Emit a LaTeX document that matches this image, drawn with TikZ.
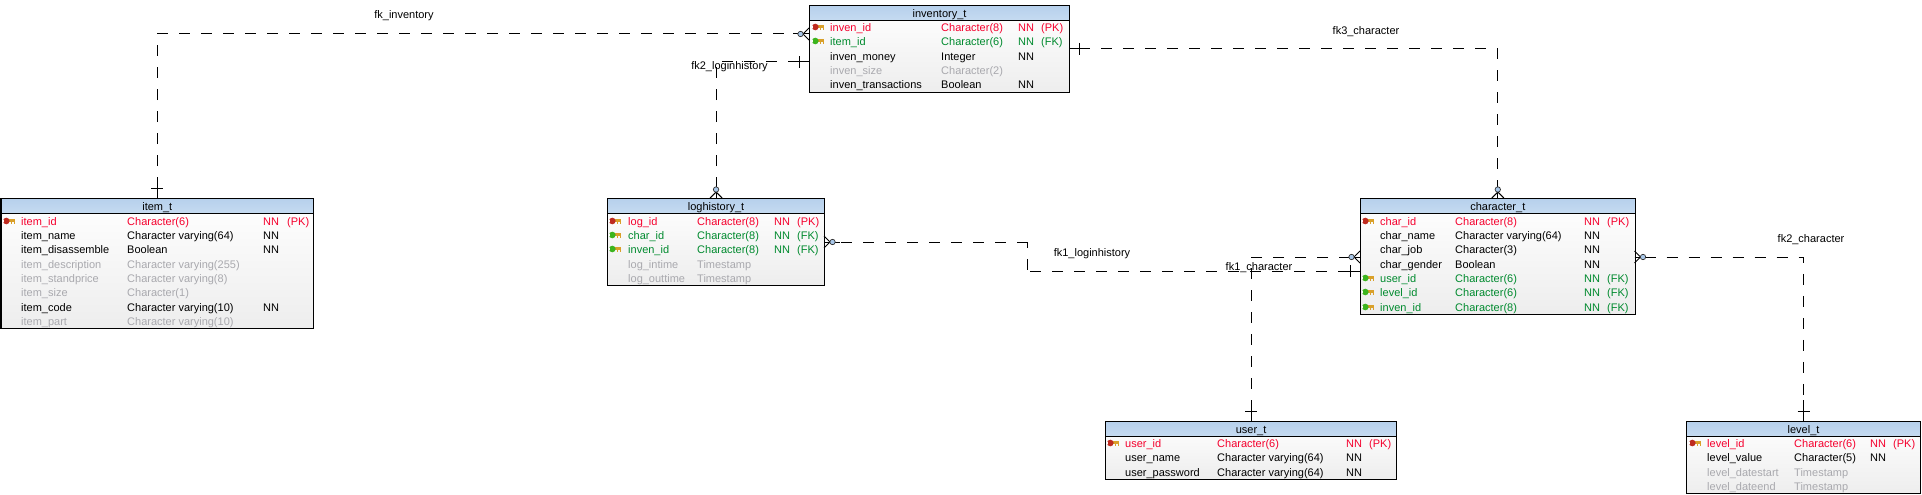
\documentclass[tikz,border=0pt]{standalone}
\usepackage{fontspec}
\setmainfont{Liberation Sans}
\usepackage{xcolor}

\definecolor{pkred}{HTML}{F5002D}
\definecolor{fkgreen}{HTML}{008A2E}
\definecolor{optgray}{HTML}{A9A9AE}
\definecolor{keygold}{HTML}{D9A02A}
\definecolor{keyred}{HTML}{BE2A20}
\definecolor{keygreen}{HTML}{3CB41E}
\definecolor{headtop}{HTML}{B6D0EC}
\definecolor{headbot}{HTML}{C6DBF1}
\definecolor{footblue}{HTML}{A9C8EA}

\tikzset{
 cell/.style={anchor=west,inner sep=0pt,text height=9.5pt,text depth=0pt,font=\fontsize{11}{13}\selectfont},
 pkcell/.style={cell,text=pkred},
 fkcell/.style={cell,text=fkgreen},
 nncell/.style={cell,text=black},
 optcell/.style={cell,text=optgray},
 tablebox/.style={draw=black,line width=1.1pt,anchor=north west,top color=white,bottom color=black!7,inner sep=0pt},
 tablehead/.style={draw=black,line width=1.1pt,anchor=north west,top color=headtop,bottom color=headbot,minimum height=15pt,inner sep=0pt,text height=8.5pt,text depth=0pt,font=\fontsize{11}{13}\selectfont},
 fkline/.style={draw=black,line width=1pt,dash pattern=on 11pt off 11pt,dash phase=12pt},
 fklabel/.style={inner sep=0pt,font=\fontsize{11}{13}\selectfont},
 pics/keyicon/.style={code={
  \fill[keygold] (4,-1.7) rectangle (12,1.3);
  \fill[keygold] (7.5,1.3) rectangle (9,3);
  \fill[keygold] (10.5,1.3) rectangle (12,3);
  \fill[#1] (3.3,0) circle (3.3);
  \fill[white] (0,-0.6) rectangle (1.4,0.6);
 }},
 pics/onebar/.style={code={
  \draw[line width=1pt] (0,0)--(21,0);
  \draw[line width=1pt] (10,-6)--(10,6);
 }},
 pics/crowfoot/.style={code={
  \draw[line width=1pt] (0,-6)--(6,0)--(0,6);
  \draw[line width=1pt] (0,0)--(16,0);
  \filldraw[draw=black!80,fill=footblue,line width=0.7pt] (8.5,0) circle (2.7);
 }}
}

\begin{document}
\begin{tikzpicture}[x=1pt,y=-1pt]
\useasboundingbox (0,0) rectangle (1922,495);

\node[tablebox,minimum width=312.5pt,minimum height=130pt] (item_t) at (0.5,198) {};
\node[tablehead,minimum width=312.5pt] (item_t_head) at (item_t.north west) {item\_t};
\node[tablebox,minimum width=260pt,minimum height=87pt] (inventory_t) at (809,5) {};
\node[tablehead,minimum width=260pt] (inventory_t_head) at (inventory_t.north west) {inventory\_t};
\node[tablebox,minimum width=217pt,minimum height=87pt] (loghistory_t) at (607,198) {};
\node[tablehead,minimum width=217pt] (loghistory_t_head) at (loghistory_t.north west) {loghistory\_t};
\node[tablebox,minimum width=274.5pt,minimum height=116pt] (character_t) at (1360,198) {};
\node[tablehead,minimum width=274.5pt] (character_t_head) at (character_t.north west) {character\_t};
\node[tablebox,minimum width=291pt,minimum height=58pt] (user_t) at (1105,421) {};
\node[tablehead,minimum width=291pt] (user_t_head) at (user_t.north west) {user\_t};
\node[tablebox,minimum width=234pt,minimum height=72pt] (level_t) at (1686,421) {};
\node[tablehead,minimum width=234pt] (level_t_head) at (level_t.north west) {level\_t};

\coordinate (inv_a) at (809,34);
\coordinate (inv_b) at (809,62);
\coordinate (inv_c) at (1069,49);
\coordinate (log_r) at (824,242);
\coordinate (log_m) at (1027,242);
\coordinate (log_n) at (1027,271);
\coordinate (chr_a) at (1360,257);
\coordinate (chr_b) at (1360,271);
\coordinate (chr_c) at (1634.5,257);

\draw[fkline] (item_t.north) |- (inv_a);
\draw[fkline] (loghistory_t.north) |- (inv_b);
\draw[fkline] (inv_c) -| (character_t.north);
\draw[fkline,dash phase=5pt] (log_r) -- (log_m);
\draw[fkline,dash phase=5pt] (log_m) -- (log_n);
\draw[fkline,dash phase=19pt] (log_n) -- (chr_b);
\draw[fkline] (chr_a) -| (user_t.north);
\draw[fkline] (chr_c) -| (level_t.north);

\pic[rotate=90] at (item_t.north) {onebar};
\pic[rotate=180] at (inv_a) {crowfoot};
\pic[rotate=180] at (inv_b) {onebar};
\pic[rotate=90] at (loghistory_t.north) {crowfoot};
\pic at (inv_c) {onebar};
\pic[rotate=90] at (character_t.north) {crowfoot};
\pic at (log_r) {crowfoot};
\pic[rotate=180] at (chr_b) {onebar};
\pic[rotate=180] at (chr_a) {crowfoot};
\pic[rotate=90] at (user_t.north) {onebar};
\pic at (chr_c) {crowfoot};
\pic[rotate=90] at (level_t.north) {onebar};

\node[fklabel] (fk_inventory) at (404,16) {fk\_inventory};
\node[fklabel] (fk3_character) at (1366,32) {fk3\_character};
\node[fklabel] (fk2_loginhistory) at (729.5,67) {fk2\_loginhistory};
\node[fklabel] (fk1_loginhistory) at (1092,254) {fk1\_loginhistory};
\node[fklabel] (fk1_character) at (1259,268) {fk1\_character};
\node[fklabel] (fk2_character) at (1811,240) {fk2\_character};

% item_t
\pic at (3,221) {keyicon=keyred};
\node[pkcell] (item_id) at (21,221) {item\_id};
\node[pkcell] (item_id_ty) at (127,221) {Character(6)};
\node[pkcell] (item_id_nn) at (263,221) {NN};
\node[pkcell] (item_id_pk) at (287,221) {(PK)};
\node[nncell] (item_name) at (21,235) {item\_name};
\node[nncell] (item_name_ty) at (127,235) {Character varying(64)};
\node[nncell] (item_name_nn) at (263,235) {NN};
\node[nncell] (item_dis) at (21,249) {item\_disassemble};
\node[nncell] (item_dis_ty) at (127,249) {Boolean};
\node[nncell] (item_dis_nn) at (263,249) {NN};
\node[optcell] (item_desc) at (21,264) {item\_description};
\node[optcell] (item_desc_ty) at (127,264) {Character varying(255)};
\node[optcell] (item_std) at (21,278) {item\_standprice};
\node[optcell] (item_std_ty) at (127,278) {Character varying(8)};
\node[optcell] (item_size) at (21,292) {item\_size};
\node[optcell] (item_size_ty) at (127,292) {Character(1)};
\node[nncell] (item_code) at (21,307) {item\_code};
\node[nncell] (item_code_ty) at (127,307) {Character varying(10)};
\node[nncell] (item_code_nn) at (263,307) {NN};
\node[optcell] (item_part) at (21,321) {item\_part};
\node[optcell] (item_part_ty) at (127,321) {Character varying(10)};

% inventory_t
\pic at (812,27) {keyicon=keyred};
\node[pkcell] (inven_id) at (830,27) {inven\_id};
\node[pkcell] (inven_id_ty) at (941,27) {Character(8)};
\node[pkcell] (inven_id_nn) at (1018,27) {NN};
\node[pkcell] (inven_id_pk) at (1041,27) {(PK)};
\pic at (812,41) {keyicon=keygreen};
\node[fkcell] (inv_item) at (830,41) {item\_id};
\node[fkcell] (inv_item_ty) at (941,41) {Character(6)};
\node[fkcell] (inv_item_nn) at (1018,41) {NN};
\node[fkcell] (inv_item_fk) at (1041,41) {(FK)};
\node[nncell] (inven_money) at (830,56) {inven\_money};
\node[nncell] (inven_money_ty) at (941,56) {Integer};
\node[nncell] (inven_money_nn) at (1018,56) {NN};
\node[optcell] (inven_size) at (830,70) {inven\_size};
\node[optcell] (inven_size_ty) at (941,70) {Character(2)};
\node[nncell] (inven_tr) at (830,84) {inven\_transactions};
\node[nncell] (inven_tr_ty) at (941,84) {Boolean};
\node[nncell] (inven_tr_nn) at (1018,84) {NN};

% loghistory_t
\pic at (609,221) {keyicon=keyred};
\node[pkcell] (log_id) at (628,221) {log\_id};
\node[pkcell] (log_id_ty) at (697,221) {Character(8)};
\node[pkcell] (log_id_nn) at (774,221) {NN};
\node[pkcell] (log_id_pk) at (797,221) {(PK)};
\pic at (609,235) {keyicon=keygreen};
\node[fkcell] (log_char) at (628,235) {char\_id};
\node[fkcell] (log_char_ty) at (697,235) {Character(8)};
\node[fkcell] (log_char_nn) at (774,235) {NN};
\node[fkcell] (log_char_fk) at (797,235) {(FK)};
\pic at (609,249) {keyicon=keygreen};
\node[fkcell] (log_inven) at (628,249) {inven\_id};
\node[fkcell] (log_inven_ty) at (697,249) {Character(8)};
\node[fkcell] (log_inven_nn) at (774,249) {NN};
\node[fkcell] (log_inven_fk) at (797,249) {(FK)};
\node[optcell] (log_intime) at (628,264) {log\_intime};
\node[optcell] (log_intime_ty) at (697,264) {Timestamp};
\node[optcell] (log_outtime) at (628,278) {log\_outtime};
\node[optcell] (log_outtime_ty) at (697,278) {Timestamp};

% character_t
\pic at (1362,221) {keyicon=keyred};
\node[pkcell] (char_id) at (1380,221) {char\_id};
\node[pkcell] (char_id_ty) at (1455,221) {Character(8)};
\node[pkcell] (char_id_nn) at (1584,221) {NN};
\node[pkcell] (char_id_pk) at (1607,221) {(PK)};
\node[nncell] (char_name) at (1380,235) {char\_name};
\node[nncell] (char_name_ty) at (1455,235) {Character varying(64)};
\node[nncell] (char_name_nn) at (1584,235) {NN};
\node[nncell] (char_job) at (1380,249) {char\_job};
\node[nncell] (char_job_ty) at (1455,249) {Character(3)};
\node[nncell] (char_job_nn) at (1584,249) {NN};
\node[nncell] (char_gender) at (1380,264) {char\_gender};
\node[nncell] (char_gender_ty) at (1455,264) {Boolean};
\node[nncell] (char_gender_nn) at (1584,264) {NN};
\pic at (1362,278) {keyicon=keygreen};
\node[fkcell] (char_user) at (1380,278) {user\_id};
\node[fkcell] (char_user_ty) at (1455,278) {Character(6)};
\node[fkcell] (char_user_nn) at (1584,278) {NN};
\node[fkcell] (char_user_fk) at (1607,278) {(FK)};
\pic at (1362,292) {keyicon=keygreen};
\node[fkcell] (char_level) at (1380,292) {level\_id};
\node[fkcell] (char_level_ty) at (1455,292) {Character(6)};
\node[fkcell] (char_level_nn) at (1584,292) {NN};
\node[fkcell] (char_level_fk) at (1607,292) {(FK)};
\pic at (1362,307) {keyicon=keygreen};
\node[fkcell] (char_inven) at (1380,307) {inven\_id};
\node[fkcell] (char_inven_ty) at (1455,307) {Character(8)};
\node[fkcell] (char_inven_nn) at (1584,307) {NN};
\node[fkcell] (char_inven_fk) at (1607,307) {(FK)};

% user_t
\pic at (1107,443) {keyicon=keyred};
\node[pkcell] (user_id) at (1125,443) {user\_id};
\node[pkcell] (user_id_ty) at (1217,443) {Character(6)};
\node[pkcell] (user_id_nn) at (1346,443) {NN};
\node[pkcell] (user_id_pk) at (1369,443) {(PK)};
\node[nncell] (user_name) at (1125,457) {user\_name};
\node[nncell] (user_name_ty) at (1217,457) {Character varying(64)};
\node[nncell] (user_name_nn) at (1346,457) {NN};
\node[nncell] (user_pw) at (1125,472) {user\_password};
\node[nncell] (user_pw_ty) at (1217,472) {Character varying(64)};
\node[nncell] (user_pw_nn) at (1346,472) {NN};

% level_t
\pic at (1689,443) {keyicon=keyred};
\node[pkcell] (level_id) at (1707,443) {level\_id};
\node[pkcell] (level_id_ty) at (1794,443) {Character(6)};
\node[pkcell] (level_id_nn) at (1870,443) {NN};
\node[pkcell] (level_id_pk) at (1893,443) {(PK)};
\node[nncell] (level_value) at (1707,457) {level\_value};
\node[nncell] (level_value_ty) at (1794,457) {Character(5)};
\node[nncell] (level_value_nn) at (1870,457) {NN};
\node[optcell] (level_start) at (1707,472) {level\_datestart};
\node[optcell] (level_start_ty) at (1794,472) {Timestamp};
\node[optcell] (level_end) at (1707,486) {level\_dateend};
\node[optcell] (level_end_ty) at (1794,486) {Timestamp};

\end{tikzpicture}
\end{document}
